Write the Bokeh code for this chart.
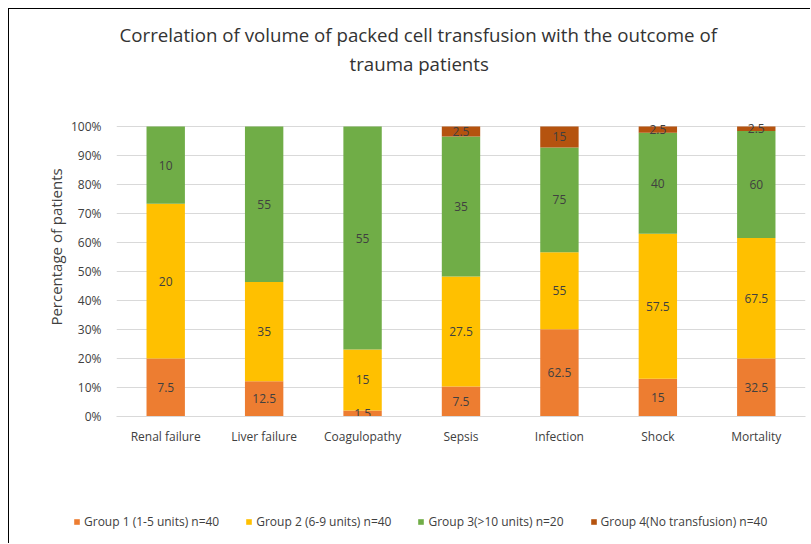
from bokeh.plotting import figure
from bokeh.models import (ColumnDataSource, FactorRange, FixedTicker, NumeralTickFormatter,
                          Title, Legend, LegendItem, Range1d)
from bokeh.core.properties import value
from bokeh.embed import file_html
from bokeh.resources import INLINE

categories = ["Renal failure", "Liver failure", "Coagulopathy", "Sepsis", "Infection", "Shock", "Mortality"]
group1 = [7.5, 12.5, 1.5, 7.5, 62.5, 15, 32.5]
group2 = [20, 35, 15, 27.5, 55, 57.5, 67.5]
group3 = [10, 55, 55, 35, 75, 40, 60]
group4 = [0, 0, 0, 2.5, 15, 2.5, 2.5]
series_names = ["Group 1 (1-5 units) n=40", "Group 2 (6-9 units) n=40",
                "Group 3(>10 units) n=20", "Group 4(No transfusion) n=40"]
y_ticks = [0, 0.1, 0.2, 0.3, 0.4, 0.5, 0.6, 0.7, 0.8, 0.9, 1.0]
colors = ["#ED7D31", "#FFC000", "#70AD47", "#B5530F"]

series = [group1, group2, group3, group4]
keys = ["g1", "g2", "g3", "g4"]
totals = [sum(s[i] for s in series) for i in range(len(categories))]

data = {"cat": categories}
for k, s in zip(keys, series):
    data[k] = [v / t for v, t in zip(s, totals)]
src = ColumnDataSource(data)

FONT = "Open Sans"
TXT = "#404040"

# layout geometry (pixels)
W = 802
H_MAIN = 505
H_LEG = 30
FRAME_TOP, Y100, Y0 = 68, 117, 407     # relative to the figure's top edge
head_room = (Y100 - FRAME_TOP) / (Y0 - Y100)

p = figure(x_range=FactorRange(*categories), y_range=Range1d(0, 1 + head_room),
           width=W, height=H_MAIN, output_backend="svg", toolbar_location=None,
           min_border_left=107, min_border_right=6, min_border_top=FRAME_TOP,
           min_border_bottom=H_MAIN - Y0)
p.outline_line_color = None
p.background_fill_color = "white"
p.styles = {"margin-left": "8px", "margin-top": "8px",
            "border-left": "1px solid #000", "border-top": "1px solid #000"}

renderers = p.vbar_stack(keys, x="cat", width=0.39, color=colors, source=src, line_color=None)

# segment labels
lx, ly, lt = [], [], []
for i, c in enumerate(categories):
    base = 0.0
    for s in series:
        frac = s[i] / totals[i]
        if s[i] > 0:
            lx.append(c)
            ly.append(base + frac / 2)
            lt.append(f"{s[i]:g}")
        base += frac
p.text(x=lx, y=ly, text=lt, text_align="center", text_baseline="middle",
       text_font=value(FONT), text_font_size="12px", text_color=TXT)

# axes
p.yaxis.ticker = FixedTicker(ticks=y_ticks)
p.yaxis.formatter = NumeralTickFormatter(format="0%")
p.yaxis.axis_line_color = None
p.yaxis.major_tick_line_color = None
p.yaxis.minor_tick_line_color = None
p.yaxis.major_label_standoff = 9
p.yaxis.major_label_text_font = FONT
p.yaxis.major_label_text_font_size = "12px"
p.yaxis.major_label_text_color = TXT
p.yaxis.axis_label = "Percentage of patients"
p.yaxis.axis_label_text_font = FONT
p.yaxis.axis_label_text_font_size = "15px"
p.yaxis.axis_label_text_font_style = "normal"
p.yaxis.axis_label_text_color = TXT
p.yaxis.axis_label_standoff = 2

p.xaxis.axis_line_color = "#d9d9d9"
p.xaxis.major_tick_line_color = None
p.xaxis.minor_tick_line_color = None
p.xaxis.major_label_standoff = 5
p.xaxis.major_label_text_font = FONT
p.xaxis.major_label_text_font_size = "12px"
p.xaxis.major_label_text_color = TXT

p.xgrid.grid_line_color = None
p.ygrid.grid_line_color = "#d9d9d9"

# titles (first added is nearest the plot)
p.add_layout(Title(text="trauma patients", align="left", offset=233,
                   text_font=FONT, text_font_size="18.7px", text_font_style="normal",
                   text_color="#333333", standoff=4), "above")
p.add_layout(Title(text="Correlation of volume of packed cell transfusion with the outcome of",
                   align="left", offset=3, text_font=FONT,
                   text_font_size="18.7px", text_font_style="normal", text_color="#333333",
                   standoff=0), "above")

# legend in its own strip below the chart (its renderers are hidden copies of the bars)
pl = figure(width=W, height=H_LEG, x_range=p.x_range, y_range=p.y_range,
            output_backend="svg", toolbar_location=None,
            x_axis_location=None, y_axis_location=None, min_border=0)
pl.outline_line_color = None
pl.grid.grid_line_color = None
pl.styles = {"margin-left": "8px", "border-left": "1px solid #000"}
leg_renderers = pl.vbar_stack(keys, x="cat", width=0.39, color=colors, source=src, line_color=None)
for r in leg_renderers:
    r.visible = False
legend = Legend(items=[LegendItem(label=n, renderers=[r]) for n, r in zip(series_names, leg_renderers)],
                orientation="horizontal", location=(64, 13), margin=0, padding=0, spacing=26,
                glyph_width=7, glyph_height=7, label_standoff=4,
                label_text_font=FONT, label_text_font_size="12px", label_text_color=TXT,
                border_line_color=None, background_fill_alpha=0,
                inactive_fill_alpha=0)
pl.add_layout(legend, "center")

open("out.html", "w").write(file_html([p, pl], INLINE))
